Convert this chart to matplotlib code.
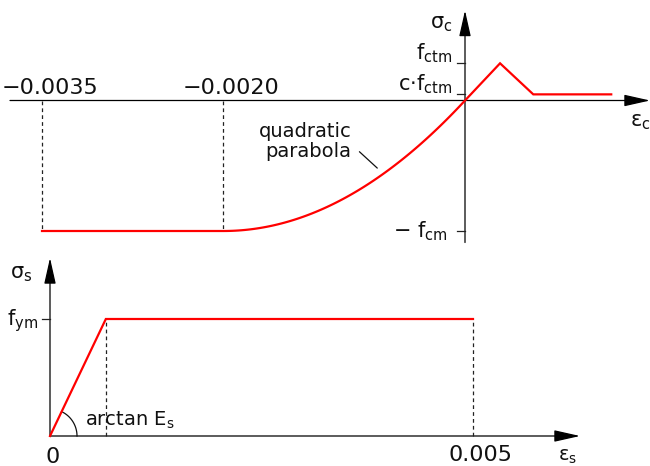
import matplotlib.pyplot as plt
import numpy as np
from matplotlib.patches import FancyArrowPatch

plt.rcParams['font.family'] = 'DejaVu Sans'
plt.rcParams['mathtext.fontset'] = 'dejavusans'

# concrete, stresses normalised to f_cm
eps_cu = -0.0035
eps_c2 = -0.0020
f_cm = 1.0
f_ctm = 0.285
c_f_ctm = 0.047
eps_t = [0.0, 0.00029, 0.000565, 0.00121]
sig_t = [0.0, f_ctm, c_f_ctm, c_f_ctm]
conc_ticks = [eps_cu, eps_c2]
conc_tick_labels = ['\u22120.0035', '\u22120.0020']

# steel, stresses normalised to f_ym
eps_sy = 0.00066
eps_su = 0.005
f_ym = 1.0
eps_s = [0.0, eps_sy, eps_su]
sig_s = [0.0, f_ym, f_ym]

W, H = 650, 466
fig = plt.figure(figsize=(6.5, 4.66), dpi=100)

RED = '#ff0000'
AX = '#222222'


def make_ax(top, bottom, ox, oy, sx, sy):
    ax = fig.add_axes([0, 1 - bottom / H, 1, (bottom - top) / H])
    ax.set_xlim(-ox / sx, (W - ox) / sx)
    ax.set_ylim(-(bottom - oy) / sy, (oy - top) / sy)
    ax.axis('off')
    return ax


def arrow(ax, p0, p1):
    ax.add_patch(FancyArrowPatch(p0, p1, arrowstyle='-|>,head_length=16,head_width=3.6',
                                 mutation_scale=1, lw=0.9, color='black', shrinkA=0, shrinkB=0))


def label(ax, s, xy, dx, dy, size, **kw):
    ax.annotate(s, xy=xy, xytext=(dx, -dy), textcoords='offset pixels', fontsize=size,
                color='#111111', **kw)


# ---------------- concrete ----------------
sx1, sy1 = 423 / 0.0035, 130.5
ax1 = make_ax(0, 250, 465, 100.5, sx1, sy1)
px1 = 1 / sx1
py1 = 1 / sy1

arrow(ax1, (-455 * px1, 0), (185 * px1, 0))
arrow(ax1, (0, -142 * py1), (0, 90 * py1))

eps_par = np.linspace(eps_c2, 0, 80)
sig_par = -f_cm * (1 - (1 - eps_par / eps_c2) ** 2)
eps_c = np.concatenate([[eps_cu], eps_par, eps_t[1:]])
sig_c = np.concatenate([[-f_cm], sig_par, sig_t[1:]])
ax1.plot(eps_c, sig_c, color=RED, lw=1.6, solid_joinstyle='miter', zorder=3)

for e, t in zip(conc_ticks, conc_tick_labels):
    ax1.plot([e, e], [0, -f_cm], color=AX, lw=0.9, dashes=(3, 2.5))
    label(ax1, t, (e, 0), 8, -7, 16, ha='center', va='baseline')

for s in [f_ctm, c_f_ctm, -f_cm]:
    ax1.plot([-8 * px1, 0], [s, s], color=AX, lw=0.9)

label(ax1, r'$\mathregular{f_{ctm}}$', (0, f_ctm), -13, 2, 15, ha='right', va='bottom')
label(ax1, r'$\mathregular{c{\cdot}f_{ctm}}$', (0, c_f_ctm), -13, 2, 15, ha='right', va='bottom')
label(ax1, r'$\mathregular{-\ f_{cm}}$', (0, -f_cm), -17, 0, 15, ha='right', va='center')
label(ax1, r'$\mathregular{\sigma_c}$', (0, 90 * py1), -12, 14, 15, ha='right', va='center')
label(ax1, r'$\mathregular{\varepsilon_c}$', (185 * px1, 0), -20, 12, 15, ha='left', va='top')

e_lead = -0.000675
s_lead = -f_cm * (1 - (1 - e_lead / eps_c2) ** 2)
label(ax1, 'quadratic\nparabola', (e_lead, s_lead), -32, -32, 14, ha='right', va='center',
      multialignment='right', linespacing=1.1)
ax1.annotate('', xy=(e_lead, s_lead), xytext=(-24, 22), textcoords='offset pixels',
             arrowprops=dict(arrowstyle='-', color='#111111', lw=0.9, shrinkA=0, shrinkB=6))

# ---------------- steel ----------------
sx2, sy2 = 423 / 0.005, 117.0
ax2 = make_ax(250, 466, 50, 436, sx2, sy2)
px2 = 1 / sx2
py2 = 1 / sy2

arrow(ax2, (0, 0), (530 * px2, 0))
arrow(ax2, (0, 0), (0, 178 * py2))

ax2.plot(eps_s, sig_s, color=RED, lw=1.6, solid_joinstyle='miter', zorder=3)
for e in [eps_sy, eps_su]:
    ax2.plot([e, e], [0, f_ym], color=AX, lw=0.9, dashes=(3, 2.5))
ax2.plot([-8 * px2, 0], [f_ym, f_ym], color=AX, lw=0.9)

# arc marking the slope angle, radius in pixels
r_arc = 27
ang = np.arctan2(f_ym * sy2, eps_sy * sx2)
t = np.linspace(0, ang, 40)
ax2.plot(r_arc * np.cos(t) * px2, r_arc * np.sin(t) * py2, color='#111111', lw=0.9)

label(ax2, '0', (0, 0), 3, 11, 16, ha='center', va='top')
label(ax2, '0.005', (eps_su, 0), 8, 9, 16, ha='center', va='top')
label(ax2, r'$\mathregular{\varepsilon_s}$', (530 * px2, 0), -22, 11, 14, ha='left', va='top')
label(ax2, r'$\mathregular{f_{ym}}$', (0, f_ym), -12, 2, 15, ha='right', va='center')
label(ax2, r'$\mathregular{\sigma_s}$', (0, 178 * py2), -29, 16, 15, ha='center', va='center')
label(ax2, r'arctan $\mathregular{E_s}$', (0, 0), 35, -10, 14, ha='left', va='baseline')

fig.savefig('out.png', dpi=100)
